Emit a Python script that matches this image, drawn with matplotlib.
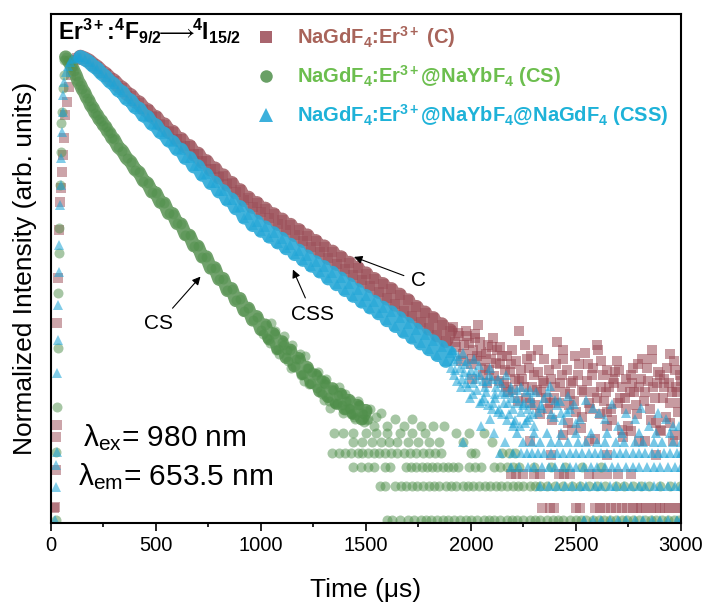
import numpy as np
import matplotlib
matplotlib.use('Agg')
import matplotlib.pyplot as plt
from matplotlib.lines import Line2D
from matplotlib.ticker import MultipleLocator, NullLocator

# =========================== data ===========================
# time in us; *_log = log10 of the normalized intensity
# --- C: NaGdF4:Er ---
c_rise_t = [15, 18, 22, 25, 27, 31, 35, 39, 43, 47, 51, 55, 60, 66, 75, 85, 95, 105, 115, 125]
c_rise_log = [-4.036, -4.029, -3.697, -3.402, -3.295, -2.381, -1.978, -1.549, -1.298, -1.173,
              -1.030, -0.877, -0.725, -0.519, -0.40, -0.27, -0.16, -0.08, -0.03, -0.01]
c_t = [140, 160, 180, 200, 220, 240, 260, 280, 300, 320, 340, 360, 380, 400, 420, 440, 460, 480,
       500, 520, 540, 560, 580, 600, 620, 640, 660, 680, 700, 720, 740, 760, 780, 800, 820, 840,
       860, 880, 900, 920, 940, 960, 980, 1000, 1020, 1040, 1060, 1080, 1100, 1120, 1140, 1160,
       1180, 1200, 1220, 1240, 1260, 1280, 1300, 1320, 1340, 1360, 1380, 1400, 1420, 1440, 1460,
       1480, 1500, 1520, 1540, 1560, 1580, 1600, 1620, 1640, 1660, 1680, 1700, 1720, 1740, 1760,
       1780, 1800, 1820, 1840, 1860, 1880, 1900]
c_log = [0.000, -0.015, -0.034, -0.066, -0.091, -0.129, -0.153, -0.192, -0.214, -0.258, -0.280,
         -0.326, -0.345, -0.395, -0.410, -0.462, -0.478, -0.530, -0.540, -0.600, -0.606, -0.667,
         -0.672, -0.735, -0.737, -0.800, -0.800, -0.870, -0.868, -0.935, -0.935, -1.005, -1.000,
         -1.075, -1.062, -1.140, -1.130, -1.210, -1.195, -1.278, -1.262, -1.340, -1.310, -1.392,
         -1.360, -1.440, -1.410, -1.492, -1.458, -1.545, -1.505, -1.592, -1.552, -1.645, -1.600,
         -1.700, -1.650, -1.745, -1.698, -1.798, -1.745, -1.850, -1.795, -1.900, -1.845, -1.950,
         -1.890, -2.000, -1.940, -2.050, -1.990, -2.100, -2.035, -2.160, -2.080, -2.215, -2.130,
         -2.270, -2.180, -2.320, -2.240, -2.375, -2.290, -2.430, -2.340, -2.490, -2.395, -2.540,
         -2.450]
c_tail_t = [1915, 1922, 1930, 1938, 1945, 1952, 1960, 1968, 1975, 1982, 1990, 1998, 2005, 2012,
            2020, 2028, 2035, 2042, 2050, 2058, 2065, 2072, 2080, 2088, 2095, 2102, 2110, 2118,
            2125, 2132, 2140, 2148, 2155, 2162, 2170, 2178, 2185, 2192, 2200, 2208, 2215, 2222,
            2230, 2238, 2245, 2252, 2260, 2268, 2275, 2282, 2290, 2298, 2305, 2312, 2320, 2328,
            2335, 2342, 2350, 2358, 2365, 2372, 2380, 2388, 2395, 2402, 2410, 2418, 2425, 2432,
            2440, 2448, 2455, 2462, 2470, 2478, 2485, 2492, 2500, 2508, 2515, 2522, 2530, 2538,
            2545, 2552, 2560, 2568, 2575, 2582, 2590, 2598, 2605, 2612, 2620, 2628, 2635, 2642,
            2650, 2650, 2658, 2665, 2672, 2680, 2688, 2695, 2702, 2710, 2718, 2725, 2732, 2740,
            2748, 2755, 2760, 2762, 2770, 2778, 2785, 2792, 2800, 2808, 2815, 2822, 2830, 2838,
            2845, 2852, 2860, 2868, 2875, 2882, 2890, 2898, 2905, 2912, 2920, 2928, 2935, 2942,
            2950, 2958, 2965, 2970, 2972, 2980, 2988, 2995, 3000,
            2003, 2017, 2047, 2077, 2107, 2137, 2167, 2197, 2227, 2257, 2287, 2317, 2347, 2377,
            2407, 2437, 2467, 2497, 2527, 2557, 2587, 2617, 2647, 2677, 2707, 2737, 2767, 2797,
            2827, 2857, 2887, 2917, 2947, 2977, 2993, 2440, 2600, 2860, 2950]
c_tail_log = [-2.42, -2.55, -2.60, -2.47, -2.50, -2.72, -2.66, -2.58, -2.45, -2.50, -2.56, -2.75,
              -2.70, -2.62, -2.52, -2.68, -2.40, -2.55, -2.64, -2.85, -2.78, -2.66, -2.58, -2.80,
              -2.70, -2.60, -2.86, -2.74, -2.62, -2.90, -2.75, -2.68, -2.92, -2.80, -2.68, -3.00,
              -2.82, -2.75, -2.98, -2.88, -2.72, -3.08, -2.45, -2.80, -2.88, -2.95, -3.05, -2.70,
              -2.78, -3.10, -2.95, -2.85, -3.12, -2.98, -2.82, -3.20, -3.00, -2.90, -2.70, -3.05,
              -3.15, -2.80, -2.88, -3.25, -3.05, -2.95, -2.55, -3.10, -2.92, -2.85, -3.38, -3.00,
              -2.80, -3.28, -3.02, -2.92, -2.90, -3.08, -3.18, -2.85, -2.75, -3.32, -2.98, -3.00,
              -2.65, -2.90, -3.10, -3.15, -2.85, -2.78, -3.42, -3.05, -2.62, -3.20, -2.95, -2.85,
              -3.08, -3.00, -2.80, -3.30, -2.95, -3.15, -3.25, -2.92, -2.82, -2.72, -3.10, -3.05,
              -2.95, -3.40, -3.05, -2.88, -3.30, -3.00, -3.35, -2.85, -2.78, -3.00, -3.12, -3.20,
              -2.95, -2.88, -2.70, -3.08, -3.44, -2.78, -2.90, -3.15, -2.70, -2.95, -3.05, -3.28,
              -2.82, -2.85, -3.35, -3.05, -2.95, -3.22, -2.78, -2.92, -3.10, -3.00, -2.72, -3.38,
              -2.80, -3.00, -3.18, -2.85, -2.90,
              -2.88, -2.48, -2.72, -2.92, -2.52, -2.60, -2.95, -2.62, -2.90, -2.58, -2.68, -2.62,
              -2.92, -3.10, -2.75, -2.70, -3.12, -2.68, -3.22, -2.75, -3.00, -2.72, -3.18, -2.88,
              -2.80, -3.15, -2.92, -2.75, -3.00, -3.25, -2.92, -2.88, -3.28, -2.95, -3.10, -2.62,
              -2.58, -2.62, -2.66]
c_unit = 9.2e-5          # one detector count, normalized
c_rows_k = [1, 2]
c_rows_t = [[2340, 2375, 2395, 2500, 2520, 2590, 2615, 2640, 2665, 2690, 2720, 2745, 2770,
             2790, 2810, 2835, 2855, 2880, 2900, 2925, 2945, 2970, 2990],
            [2190, 2215, 2250, 2300, 2330, 2420, 2445, 2470, 2560, 2600, 2650, 2700, 2760]]
c_sc_t = [2280, 2380, 2480, 2560, 2650, 2720, 2800, 2880, 2900, 2960]
c_sc_k = [4, 3, 5, 4, 3, 5, 4, 3, 5, 4]

# --- CS: NaGdF4:Er@NaYbF4 ---
cs_rise_t = [22, 26, 29, 32, 35, 38, 40, 43, 46, 50, 53, 57, 61, 64]
cs_rise_log = [-4.145, -3.536, -3.133, -2.605, -2.113, -1.755, -1.531, -1.146, -0.850, -0.591,
               -0.492, -0.278, -0.161, -0.027]
cs_t = [70, 80, 90, 100, 110, 120, 130, 140, 150, 160, 170, 180, 190, 200, 210, 220, 230, 240,
        250, 260, 270, 280, 290, 300, 320, 340, 360, 380, 400, 420, 440, 460, 480, 500, 520, 540,
        560, 580, 600, 620, 640, 660, 680, 700, 720, 740, 760, 780, 800, 820, 840, 860, 880, 900,
        920, 940, 960, 980, 1000, 1020, 1040, 1060, 1080, 1100, 1120, 1140, 1160, 1180, 1200,
        1220, 1240, 1260, 1280, 1300, 1320, 1340, 1360, 1380, 1400, 1420, 1440, 1460, 1480, 1500]
cs_log = [0.000, -0.025, -0.056, -0.088, -0.128, -0.167, -0.219, -0.248, -0.291, -0.318, -0.363,
          -0.390, -0.436, -0.456, -0.498, -0.518, -0.558, -0.571, -0.611, -0.624, -0.666, -0.681,
          -0.725, -0.735, -0.808, -0.840, -0.907, -0.938, -1.008, -1.033, -1.108, -1.130, -1.208,
          -1.218, -1.300, -1.310, -1.400, -1.403, -1.490, -1.496, -1.590, -1.597, -1.690, -1.695,
          -1.790, -1.790, -1.890, -1.888, -1.990, -1.984, -2.090, -2.074, -2.180, -2.163, -2.270,
          -2.250, -2.355, -2.325, -2.440, -2.400, -2.525, -2.480, -2.610, -2.550, -2.690, -2.625,
          -2.765, -2.700, -2.835, -2.780, -2.915, -2.850, -2.990, -2.915, -3.040, -2.970, -3.100,
          -3.020, -3.150, -3.075, -3.190, -3.120, -3.240, -3.165]
cs_tail_t = [1010, 1030, 1045, 1050, 1065, 1070, 1085, 1105, 1110, 1125, 1130, 1145, 1150, 1165,
             1185, 1190, 1205, 1210, 1225, 1230, 1245, 1265, 1270, 1285, 1290, 1305, 1310, 1325,
             1345, 1350, 1365, 1370, 1385, 1400, 1405, 1425, 1430, 1445, 1460, 1465, 1485, 1490,
             1505, 1520, 1550]
cs_tail_log = [-2.48, -2.52, -2.56, -2.38, -2.45, -2.62, -2.66, -2.58, -2.50, -2.62, -2.72, -2.78,
               -2.58, -2.70, -2.66, -2.85, -2.90, -2.68, -2.78, -2.93, -2.82, -2.96, -2.82, -2.88,
               -3.02, -2.93, -2.88, -3.08, -2.98, -3.10, -3.03, -2.95, -3.12, -3.02, -3.08, -3.15,
               -3.20, -3.22, -3.08, -3.12, -3.20, -3.27, -3.25, -3.15, -3.22]
cs_unit = 7.15e-5
cs_rows_k = [1, 2, 3, 4, 5, 6]
cs_rows_t = [[1600, 1625, 1660, 1700, 1730, 1760, 1785, 1810, 1840, 1865, 1890, 1920, 1950, 1975,
              2000, 2030, 2060, 2085, 2110, 2140, 2170, 2195, 2220, 2250, 2280, 2305, 2330, 2360,
              2390, 2415, 2440, 2470, 2500, 2525, 2550, 2580, 2610, 2635, 2660, 2690, 2720, 2745,
              2770, 2800, 2830, 2855, 2880, 2910, 2940, 2965, 2990],
             [1565, 1590, 1640, 1665, 1690, 1720, 1745, 1770, 1800, 1825, 1850, 1880, 1905, 1930,
              1960, 1985, 2010, 2040, 2065, 2090, 2120, 2145, 2170, 2200, 2225, 2250, 2280, 2305,
              2330, 2360, 2400, 2440, 2480, 2520, 2560, 2600, 2640, 2690, 2730, 2770, 2810, 2850,
              2900, 2950, 2995],
             [1440, 1475, 1510, 1540, 1590, 1615, 1690, 1715, 1740, 1765, 1790, 1815, 1840, 1865,
              1890, 1915, 1940, 1990, 2020, 2050, 2110, 2140, 2170, 2200, 2230, 2300, 2380, 2450,
              2530, 2620],
             [1340, 1370, 1400, 1430, 1460, 1480, 1510, 1540, 1560, 1590, 1620, 1650, 1680, 1710,
              1740, 1770, 1800, 1830, 1855, 2000, 2020, 2150, 2180, 2210],
             [1440, 1480, 1530, 1570, 1610, 1650, 1700, 1750, 1800, 1850, 1960, 2100],
             [1350, 1390, 1440, 1500, 1550, 1600, 1660, 1720, 1780, 1930, 1990, 2060]]
cs_sc_t = [1300, 1330, 1360, 1390, 1420, 1450, 1480, 1510, 1540, 1570, 1600, 1640, 1680, 1720,
           1760, 1820, 1870]
cs_sc_k = [12, 10, 11, 9, 10, 8, 9, 8, 7, 9, 7, 8, 7, 8, 7, 7, 7]

# --- CSS: NaGdF4:Er@NaYbF4@NaGdF4 ---
css_rise_t = [20, 23, 25, 27, 30, 32, 34, 37, 40, 43, 46, 49, 52, 55, 58, 62, 70, 80, 90, 100,
              115, 130]
css_rise_log = [-4.145, -3.850, -3.653, -3.536, -2.829, -2.534, -2.220, -1.925, -1.683, -1.325,
                -1.146, -0.904, -0.671, -0.492, -0.340, -0.224, -0.134, -0.081, -0.045, -0.018,
                -0.005, 0.000]
css_t = [140, 160, 180, 200, 220, 240, 260, 280, 300, 320, 340, 360, 380, 400, 420, 440, 460,
         480, 500, 520, 540, 560, 580, 600, 620, 640, 660, 680, 700, 720, 740, 760, 780, 800, 820,
         840, 860, 880, 900, 920, 940, 960, 980, 1000, 1020, 1040, 1060, 1080, 1100, 1120, 1140,
         1160, 1180, 1200, 1220, 1240, 1260, 1280, 1300, 1320, 1340, 1360, 1380, 1400, 1420, 1440,
         1460, 1480, 1500, 1520, 1540, 1560, 1580, 1600, 1620, 1640, 1660, 1680, 1700, 1720, 1740,
         1760, 1780, 1800, 1820, 1840, 1860, 1880, 1900]
css_log = [0.000, -0.020, -0.043, -0.079, -0.104, -0.147, -0.175, -0.220, -0.245, -0.298, -0.315,
           -0.375, -0.390, -0.449, -0.463, -0.524, -0.537, -0.599, -0.612, -0.673, -0.687, -0.748,
           -0.761, -0.826, -0.830, -0.905, -0.905, -0.980, -0.979, -1.055, -1.052, -1.129, -1.127,
           -1.204, -1.201, -1.279, -1.276, -1.355, -1.343, -1.438, -1.418, -1.505, -1.473, -1.557,
           -1.525, -1.609, -1.577, -1.661, -1.628, -1.713, -1.680, -1.765, -1.733, -1.817, -1.785,
           -1.869, -1.837, -1.921, -1.880, -1.983, -1.931, -2.035, -1.983, -2.087, -2.035, -2.139,
           -2.087, -2.191, -2.139, -2.243, -2.191, -2.295, -2.243, -2.357, -2.285, -2.409, -2.337,
           -2.461, -2.389, -2.513, -2.441, -2.565, -2.493, -2.617, -2.545, -2.669, -2.597, -2.721,
           -2.650]
css_tail_t = [1910, 1918, 1925, 1932, 1940, 1948, 1955, 1962, 1970, 1978, 1985, 1992, 2000, 2008,
              2015, 2022, 2030, 2038, 2045, 2052, 2060, 2068, 2075, 2082, 2090, 2098, 2105, 2112,
              2120, 2128, 2135, 2142, 2150, 2158, 2165, 2172, 2180, 2188, 2195, 2202, 2210, 2218,
              2225, 2232, 2240, 2248, 2255, 2262, 2270, 2278, 2285, 2292, 2300, 2320, 2350, 2380,
              2410, 2440, 2470, 2500,
              1905, 1921, 1936, 1951, 1966, 1981, 1996, 2011, 2026, 2041, 2056, 2071, 2086, 2101,
              2116, 2131, 2146, 2161, 2176, 2191, 2206, 2221, 2236, 2251, 2266, 2281, 2296, 2335,
              2365, 2395, 2425, 2455]
css_tail_log = [-2.62, -2.72, -2.80, -2.90, -2.70, -2.78, -2.88, -2.65, -2.75, -2.92, -2.95,
                -2.85, -2.80, -3.02, -2.70, -2.88, -2.98, -2.76, -2.85, -3.08, -3.05, -2.95,
                -2.90, -3.12, -2.78, -2.88, -3.10, -3.02, -2.95, -3.18, -3.15, -2.92, -3.00,
                -3.10, -2.85, -3.25, -3.20, -3.00, -3.05, -3.15, -3.25, -2.98, -3.10, -3.30,
                -2.95, -3.12, -3.28, -3.00, -3.15, -3.22, -3.05, -3.10, -3.30, -3.18, -3.05,
                -3.20, -3.12, -3.25, -3.15, -3.28,
                -2.78, -2.85, -2.68, -2.95, -2.82, -2.72, -3.05, -2.92, -2.82, -3.10, -2.90,
                -3.00, -2.85, -3.15, -3.05, -2.88, -3.20, -3.02, -3.10, -2.95, -3.28, -3.05,
                -3.18, -3.10, -3.25, -2.98, -3.20, -3.12, -3.00, -3.22, -3.08, -3.18]
css_unit = 7.15e-5
css_rows_k = [1, 2, 3, 4, 5, 6]
css_rows_t = [[2540, 2580, 2620, 2660, 2700, 2740, 2780, 2820, 2860, 2900, 2940, 2980, 3000],
              [2330, 2370, 2410, 2450, 2480, 2520, 2550, 2590, 2620, 2660, 2690, 2730, 2760, 2800,
               2830, 2870, 2900, 2940, 2970, 3000],
              [2190, 2230, 2270, 2300, 2340, 2370, 2400, 2440, 2470, 2500, 2540, 2570, 2600, 2640,
               2670, 2700, 2740, 2770, 2800, 2840, 2870, 2900, 2940, 2970, 3000],
              [2140, 2200, 2265, 2290, 2320, 2350, 2380, 2410, 2440, 2470, 2500, 2530, 2560, 2590,
               2620, 2650, 2680, 2710, 2740, 2770, 2800, 2830, 2860, 2890, 2920, 2950, 2980, 3000],
              [2250, 2290, 2330, 2380, 2420, 2460, 2510, 2550, 2600, 2640, 2690, 2730, 2780, 2820,
               2870, 2910, 2960, 3000],
              [2220, 2300, 2360, 2430, 2500, 2570, 2650, 2720, 2800, 2880, 2950]]
css_sc_t = [1960, 2050, 2090, 2110, 2160, 2200, 2240, 2310, 2340, 2375, 2400, 2430, 2460, 2490,
            2520, 2550, 2580, 2610, 2640, 2670, 2700, 2740, 2780, 2810, 2850, 2890, 2930, 2960,
            2990]
css_sc_k = [5, 7, 8, 6, 5, 7, 4, 14, 10, 16, 12, 9, 13, 11, 8, 12, 10, 9, 8, 11, 7, 9, 8, 10,
            7, 9, 8, 7, 7]

labels = ['NaGdF$_4$:Er$^{3+}$ (C)',
          'NaGdF$_4$:Er$^{3+}$@NaYbF$_4$ (CS)',
          'NaGdF$_4$:Er$^{3+}$@NaYbF$_4$@NaGdF$_4$ (CSS)']

# =========================== style ===========================
plt.rcParams['font.family'] = ['Liberation Sans', 'DejaVu Sans']
plt.rcParams['mathtext.fontset'] = 'custom'
plt.rcParams['mathtext.rm'] = 'Liberation Sans:bold'     # bold labels with sub/superscripts
plt.rcParams['mathtext.sf'] = 'Liberation Sans'
plt.rcParams['mathtext.it'] = 'Liberation Sans:italic'
plt.rcParams['mathtext.bf'] = 'Liberation Sans:bold'
plt.rcParams['mathtext.fallback'] = 'stixsans'

c_col, cs_col, css_col = '#9A4A55', '#4F8F4A', '#1AA3D6'
c_band, cs_band, css_band = '#A5646A', '#62985C', '#2CAAD8'
text_cols = ['#A8645A', '#6CBE4E', '#1EB2D8']

fig = plt.figure(figsize=(7.07, 6.04), dpi=100)
ax = fig.add_axes([0.0721, 0.1341, 0.8911, 0.8435])


def draw(t, y, marker, color, ms, a=0.5):
    ax.plot(t, y, ls='none', marker=marker, ms=ms, color=color, mew=0, alpha=a)


def band(t, y, color, lw):
    ax.plot(t, y, color=color, lw=lw, solid_capstyle='round', solid_joinstyle='round', alpha=0.9)


# C
band(c_t, 10 ** np.array(c_log), c_band, 10.5)
draw(c_rise_t, 10 ** np.array(c_rise_log), 's', c_col, 6.5)
draw(c_t, 10 ** np.array(c_log), 's', c_col, 6.5, 0.45)
draw(c_tail_t, 10 ** np.array(c_tail_log), 's', c_col, 6.5, 0.55)
for k, ts in zip(c_rows_k, c_rows_t):
    draw(ts, [k * c_unit] * len(ts), 's', c_col, 6.5)
draw(c_sc_t, np.array(c_sc_k) * c_unit, 's', c_col, 6.5)

# CS
band(cs_t, 10 ** np.array(cs_log), cs_band, 9.5)
draw(cs_rise_t, 10 ** np.array(cs_rise_log), 'o', cs_col, 7.2)
draw(cs_t, 10 ** np.array(cs_log), 'o', cs_col, 7.2, 0.45)
draw(cs_tail_t, 10 ** np.array(cs_tail_log), 'o', cs_col, 7.2)
for k, ts in zip(cs_rows_k, cs_rows_t):
    draw(ts, [k * cs_unit] * len(ts), 'o', cs_col, 7.2)
draw(cs_sc_t, np.array(cs_sc_k) * cs_unit, 'o', cs_col, 7.2)

# CSS
band(css_t, 10 ** np.array(css_log), css_band, 10)
draw(css_rise_t, 10 ** np.array(css_rise_log), '^', css_col, 7.5, 0.55)
draw(css_t, 10 ** np.array(css_log), '^', css_col, 7.5, 0.45)
draw(css_tail_t, 10 ** np.array(css_tail_log), '^', css_col, 7.5, 0.55)
for k, ts in zip(css_rows_k, css_rows_t):
    draw(ts, [k * css_unit] * len(ts), '^', css_col, 7.5, 0.6)
draw(css_sc_t, np.array(css_sc_k) * css_unit, '^', css_col, 7.5, 0.55)

# axes
ax.set_yscale('log')
ax.set_xlim(0, 3000)
ax.set_ylim(10 ** -4.172, 10 ** 0.389)
ax.yaxis.set_major_locator(NullLocator())
ax.yaxis.set_minor_locator(NullLocator())
ax.xaxis.set_major_locator(MultipleLocator(500))
ax.xaxis.set_minor_locator(MultipleLocator(250))
ax.tick_params(axis='x', which='major', direction='out', length=6, width=1.2, labelsize=14.5, pad=3)
ax.tick_params(axis='x', which='minor', direction='out', length=3, width=1.2)
for s in ax.spines.values():
    s.set_linewidth(1.5)
ax.set_xlabel('Time (μs)', fontsize=19, labelpad=17)
ax.set_ylabel('Normalized Intensity (arb. units)', fontsize=19, labelpad=10)

# legend
handles = [Line2D([], [], ls='none', marker='s', ms=8.5, color=c_col, mew=0, alpha=0.85),
           Line2D([], [], ls='none', marker='o', ms=9, color=cs_col, mew=0, alpha=0.85),
           Line2D([], [], ls='none', marker='^', ms=9.5, color=css_col, mew=0, alpha=0.85)]
ax.legend(handles, labels, loc='upper left', bbox_to_anchor=(0.329, 0.979), frameon=False,
          handlelength=0.8, handletextpad=1.1, labelspacing=0.65, borderpad=0, borderaxespad=0,
          prop={'weight': 'bold', 'size': 14.5}, labelcolor=text_cols)

ax.text(0.011, 0.948, 'Er$^{3+}$:$^4$F$_{9/2}$$\\!\\!\\longrightarrow\\!\\!$$^4$I$_{15/2}$',
        transform=ax.transAxes, fontsize=16.5, fontweight='bold', va='baseline')
ax.text(0.051, 0.150, '$\\mathsf{\\lambda}_{\\mathsf{ex}}$= 980 nm', transform=ax.transAxes,
        fontsize=21.5, va='baseline')
ax.text(0.043, 0.075, '$\\mathsf{\\lambda}_{\\mathsf{em}}$= 653.5 nm', transform=ax.transAxes,
        fontsize=21.5, va='baseline')

arrow = dict(arrowstyle='-|>', color='black', lw=0.8, shrinkA=3, shrinkB=0, mutation_scale=12)
ax.annotate('C', xy=(1443, 10 ** -1.79), xytext=(1748, 10 ** -2.005), ha='center', va='center',
            fontsize=15, arrowprops=arrow)
ax.annotate('CSS', xy=(1152, 10 ** -1.903), xytext=(1245, 10 ** -2.301), ha='center', va='center',
            fontsize=15, arrowprops=arrow)
ax.annotate('CS', xy=(712, 10 ** -1.966), xytext=(514, 10 ** -2.387), ha='center', va='center',
            fontsize=15, arrowprops=arrow)

fig.savefig('out.png', dpi=100)
